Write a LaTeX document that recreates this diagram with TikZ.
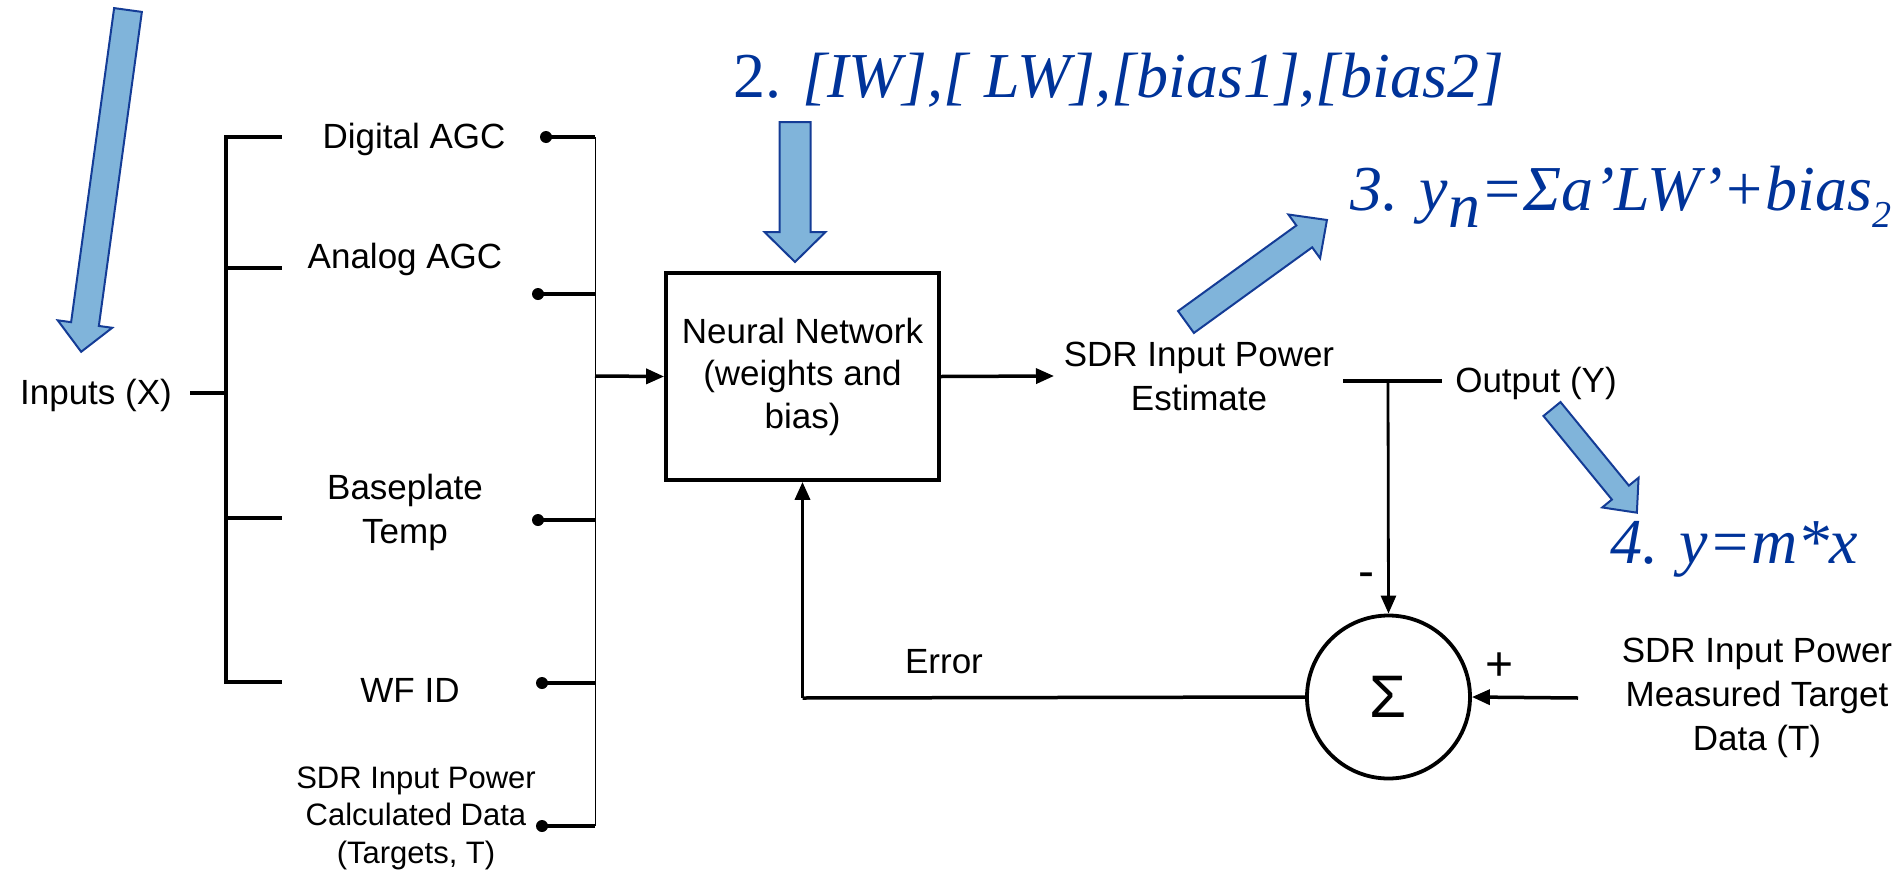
\documentclass[tikz,border=0pt]{standalone}
\usepackage{fontspec}
\setmainfont{Liberation Sans}
\newfontfamily\tms{Liberation Serif}
\usetikzlibrary{arrows.meta}

\definecolor{eqblue}{RGB}{0,51,153}
\definecolor{hintfill}{RGB}{128,180,218}
\definecolor{hintline}{RGB}{20,60,150}

% block arrow: tail point, angle, length, half shaft width, half head width, head length
\newcommand\blockarrow[6]{%
  \draw[hintarrow, shift={#1}, rotate=#2]
    (0,-#4) -- ({#3-#6},-#4) -- ({#3-#6},-#5) -- (#3,0) -- ({#3-#6},#5)
    -- ({#3-#6},#4) -- (0,#4) -- cycle;}

\tikzset{
  hintarrow/.style={fill=hintfill, draw=hintline, line width=1pt, line join=miter},
  lbl/.style={font=\fontsize{17.5}{22}\selectfont, inner sep=0pt, align=center},
  smalllbl/.style={font=\fontsize{15.5}{18.75}\selectfont, inner sep=0pt, align=center},
  signlbl/.style={font=\fontsize{24}{24}\selectfont, inner sep=0pt},
  eq/.style={font=\tms\fontsize{32}{38}\selectfont, text=eqblue, inner sep=0pt},
  wire/.style={line width=1.75pt},
  thinwire/.style={line width=0.5pt},
  flow/.style={line width=1.75pt, -{Triangle[length=9pt,width=7.5pt]}},
  tap/.style={circle, fill, inner sep=0pt, minimum size=6pt},
  nnbox/.style={draw, line width=1.9pt, minimum width=136.5pt, minimum height=103.5pt, inner sep=0pt, align=center, font=\fontsize{17.5}{21.25}\selectfont},
  sumnode/.style={draw, circle, line width=1.9pt, minimum size=81.5pt, inner sep=0pt, font=\fontsize{30}{30}\selectfont},
}

\begin{document}
\begin{tikzpicture}[x=0.5pt, y=-0.5pt]
\useasboundingbox (0,0) rectangle (1903,873);

% hint arrows
\blockarrow{(128,10)}{262.2}{345}{14}{27.5}{28}
\blockarrow{(795,122)}{-90}{140}{15.5}{30.5}{30}
\blockarrow{(1186,322)}{35.9}{174}{13.5}{27}{28}
\blockarrow{(1552,409)}{-50.7}{134}{11}{23.5}{26}

% equations
\node[eq, anchor=base west] (eq2) at (733,97) {2. \itshape [IW],[ LW],[bias1],[bias2]};
\node[eq, anchor=base west] (eq3) at (1350,210)
  {\itshape 3. y\raisebox{-8.5pt}{n}=Σa’LW’+bias\raisebox{-8.5pt}{\fontsize{19}{19}\selectfont 2}};
\node[eq, anchor=base west] (eq4) at (1610,563) {\itshape 4. y=m*x};

% input side
\node[lbl, anchor=base] (inx) at (96,404) {Inputs (X)};
\coordinate (bustop) at (226,137);
\coordinate (busbot) at (226,682);
\coordinate (busmid) at (226,393);
\draw[wire] (190,393) -- (busmid);
\draw[wire, line cap=rect] (bustop) -- (busbot);
\draw[wire] (bustop) -- (282,137);
\draw[wire] (226,268) -- (282,268);
\draw[wire] (226,518) -- (282,518);
\draw[wire] (busbot) -- (282,682);

\node[lbl, anchor=base] (dagc) at (414,148) {Digital AGC};
\node[lbl, anchor=base] (aagc) at (405,268) {Analog AGC};
\node[lbl] (temp) at (405,512) {Baseplate\\Temp};
\node[lbl, anchor=base] (wfid) at (410,702) {WF ID};
\node[smalllbl] (calc) at (416,818) {SDR Input Power\\Calculated Data\\(Targets, T)};

% taps onto the collector line
\node[tap] (t1) at (546,137) {};
\node[tap] (t2) at (538,294) {};
\node[tap] (t3) at (538,520) {};
\node[tap] (t4) at (542,683) {};
\node[tap] (t5) at (542,826) {};
\coordinate (c1) at (595,137);
\coordinate (c2) at (595,294);
\coordinate (c3) at (595,520);
\coordinate (c4) at (595,683);
\coordinate (c5) at (595,826);
\coordinate (cin) at (595,376);
\draw[wire] (t1.center) -- (c1);
\draw[wire] (t2.center) -- (c2);
\draw[wire] (t3.center) -- (c3);
\draw[wire] (t4.center) -- (c4);
\draw[wire] (t5.center) -- (c5);
\draw[thinwire] (c1) -- (c5);

% network
\node[nnbox] (nn) at (802.5,376.5) {Neural Network\\(weights and\\bias)};
\draw[flow] (cin) -- (nn.west);

\coordinate (estin) at (1054,376);
\draw[flow] (nn.east) -- (estin);
\node[lbl] (est) at (1199,376) {SDR Input Power\\Estimate};

% output tee
\coordinate (teeL) at (1343,381);
\coordinate (teeR) at (1442,381);
\coordinate (teeM) at (1388,381);
\draw[wire] (teeL) -- (teeR);
\node[lbl, anchor=base] (outy) at (1536,392) {Output (Y)};

% summing junction
\node[sumnode] (sum) at (1388.5,697) {Σ};
\draw[line width=1.4pt, -{Triangle[length=9pt,width=7.5pt]}] (teeM) -- (sum.north);
\node[signlbl] (minus) at (1366,580) {-};
\node[signlbl] (plus) at (1500,667) {+};

\coordinate (tin) at (1578,698);
\draw[flow] (tin) -- (sum.east);
\node[lbl] (meas) at (1757,698) {SDR Input Power\\Measured Target\\Data (T)};

% error feedback
\coordinate (errcorner) at (802.5,698);
\draw[wire] (sum.west) -- (errcorner);
\draw[flow] (errcorner) -- (nn.south);
\node[lbl, anchor=base] (err) at (944,673) {Error};
\end{tikzpicture}
\end{document}
